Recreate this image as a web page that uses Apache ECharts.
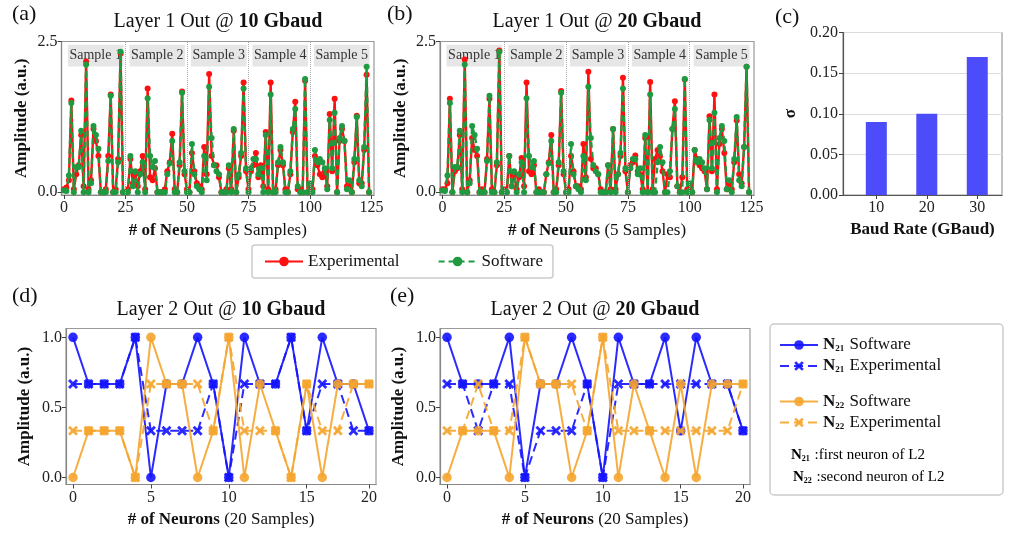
<!DOCTYPE html>
<html><head><meta charset="utf-8">
<script src="https://cdn.jsdelivr.net/npm/echarts@6/dist/echarts.min.js"></script>
<style>html,body{margin:0;padding:0;background:#fff}#c{width:1009px;height:534px}</style>
</head><body><div id="c"></div>
<script>
// ---------------- DATA ----------------
const layer1Ticks = [0, 25, 50, 75, 100, 125];
const sampleNames = ['Sample 1', 'Sample 2', 'Sample 3', 'Sample 4', 'Sample 5'];
const sampleDividers = [25, 50, 75, 100];
const layer1YTicks = [0, 2.5];

const software = [
  0.03,0.02,0.28,1.48,0.0,0.42,0.42,1.02,0.0,2.12,0.0,0.15,1.1,0.95,0.72,0.0,0.0,0.0,0.52,1.6,0.0,0.0,0.5,2.33,0.0,
  0.0,0.0,0.6,0.1,0.35,0.0,0.3,0.5,0.0,1.56,0.6,0.42,0.52,0.0,0.0,0.0,0.0,0.3,0.48,0.85,0.0,0.0,0.5,1.65,0.35,
  0.0,0.0,0.8,0.3,0.1,0.05,0.0,0.6,0.2,1.75,0.9,0.45,0.35,0.3,0.0,0.0,0.0,0.45,0.0,1.05,0.0,0.3,0.65,1.72,0.4,
  0.0,0.4,0.55,0.55,0.3,0.4,0.0,0.95,0.0,1.62,0.0,0.0,0.5,0.75,0.5,0.0,0.0,0.35,1.05,1.38,0.1,0.0,0.0,1.88,0.0,
  0.15,0.0,0.7,0.5,0.55,0.5,0.4,0.05,1.2,0.4,1.32,0.0,0.9,1.1,0.85,0.05,0.2,0.0,0.55,1.25,0.2,0.1,0.75,2.08,0.0
];
const exp10 = [
  0.05,0.08,0.2,1.52,0.05,0.3,0.45,0.95,0.1,2.17,0.05,0.2,1.05,0.85,0.6,0.0,0.0,0.05,0.6,1.62,0.0,0.05,0.55,2.3,0.0,
  0.0,0.05,0.55,0.15,0.3,0.1,0.35,0.6,0.05,1.72,0.25,0.2,0.4,0.0,0.0,0.0,0.05,0.35,0.5,0.97,0.05,0.0,0.45,1.67,0.3,
  0.05,0.0,0.65,0.35,0.15,0.1,0.05,0.75,0.3,1.96,0.6,0.45,0.45,0.25,0.0,0.0,0.05,0.4,0.05,1.02,0.0,0.25,0.6,1.82,0.35,
  0.05,0.35,0.45,0.65,0.25,0.45,0.1,1.0,0.05,1.82,0.0,0.05,0.45,0.7,0.45,0.05,0.0,0.3,1.0,1.5,0.05,0.05,0.0,1.85,0.0,
  0.1,0.05,0.6,0.45,0.3,0.25,0.35,0.1,1.3,0.35,1.55,0.0,0.85,1.05,0.85,0.1,0.15,0.0,0.5,1.27,0.15,0.15,0.7,1.95,0.0
];
const exp20 = [
  0.05,0.05,0.15,1.55,0.0,0.35,0.4,0.95,0.05,2.2,0.0,0.2,0.9,0.7,0.6,0.0,0.05,0.0,0.55,1.55,0.05,0.0,0.45,2.35,0.0,
  0.05,0.0,0.6,0.1,0.3,0.05,0.25,0.57,0.1,1.82,0.35,0.3,0.45,0.0,0.05,0.0,0.0,0.3,0.5,0.95,0.0,0.05,0.45,1.68,0.3,
  0.0,0.05,0.6,0.35,0.1,0.1,0.05,0.8,0.25,2.0,0.55,0.4,0.4,0.3,0.05,0.0,0.0,0.45,0.05,1.05,0.05,0.3,0.6,1.9,0.35,
  0.0,0.45,0.5,0.61,0.35,0.3,0.05,0.9,0.0,1.83,0.05,0.55,0.7,0.6,0.35,0.0,0.3,0.25,1.05,1.51,0.1,0.0,0.25,1.87,0.05,
  0.1,0.0,0.7,0.55,0.45,0.4,0.35,0.05,1.26,0.35,1.62,0.05,0.8,1.05,0.65,0.05,0.15,0.05,0.5,1.19,0.3,0.15,0.75,2.08,0.0
];

const baudRates = [10, 20, 30];
const sigma = [0.09, 0.10, 0.17];

const l2TickPos = [0, 5, 10, 15, 19];
const l2TickLabels = ['0', '5', '10', '15', '20'];
const l2YTicks = [0, 0.5, 1.0];
const n21Soft  = [1,.667,.667,.667,1,0,.667,.667,1,.667,0,1,.667,.667,1,.333,1,.667,.667,.333];
const n22Soft  = [0,.333,.333,.333,0,1,.667,.667,0,.333,1,0,.667,.333,0,.667,0,.667,.667,.667];
const n21Exp10 = [.667,.667,.667,.667,1,.333,.333,.333,.333,.667,0,.667,.667,.667,1,.333,.667,.667,.333,.333];
const n22Exp10 = [.333,.333,.333,.333,0,.667,.667,.667,.667,.333,1,.333,.333,.333,0,.667,.333,.333,.667,.667];
const n21Exp20 = [.667,.667,.333,.667,.667,0,.333,.333,.333,.667,0,.667,.667,.667,.667,.667,.667,.667,.667,.333];
const n22Exp20 = [.333,.333,.667,.333,.333,1,.667,.667,.667,.333,1,.333,.333,.333,.333,.333,.333,.333,.333,.667];

// ---------------- STYLE ----------------
const FONT = "'Liberation Serif','Times New Roman',serif";
const RED = '#ff1010', GREEN = '#1f9a40', BLUE = '#1414ff', ORANGE = '#f5a52f', BARC = '#4c4cfa';
const XPATH = 'path://M2,0 L5,3 L8,0 L10,2 L7,5 L10,8 L8,10 L5,7 L2,10 L0,8 L3,5 L0,2 Z';

const grids = [
  {left: 61.5, top: 41.5, width: 312.5, height: 153.5},
  {left: 440, top: 41.5, width: 314, height: 153.5},
  {left: 843, top: 32.5, width: 159, height: 162.5},
  {left: 66, top: 328.5, width: 310, height: 156},
  {left: 440, top: 328.5, width: 310, height: 156}
].map(g => Object.assign({show: true, borderColor: '#9a9a9a', borderWidth: 1.2, containLabel: false}, g));

const tickLabel = {fontFamily: FONT, fontSize: 16, color: '#222'};
const richName = {
  b: {fontFamily: FONT, fontWeight: 'bold', fontSize: 17, color: '#111'},
  n: {fontFamily: FONT, fontSize: 17, color: '#111'}
};
function baseAxis(gi) {
  return {
    gridIndex: gi, type: 'value',
    axisLine: {show: true, onZero: false, lineStyle: {color: '#888', width: 1.2}},
    axisTick: {show: true, length: 4, lineStyle: {color: '#444'}},
    splitLine: {show: false}
  };
}
function l1X(gi) {
  const a = baseAxis(gi);
  return Object.assign(a, {
    min: -1, max: 126,
    axisTick: Object.assign({}, a.axisTick, {customValues: layer1Ticks}),
    axisLabel: Object.assign({customValues: layer1Ticks, margin: 5}, tickLabel),
    name: '{b|# of Neurons}{n| (5 Samples)}', nameLocation: 'middle', nameGap: 27,
    nameTextStyle: {rich: richName}
  });
}
function l1Y(gi) {
  const a = baseAxis(gi);
  return Object.assign(a, {
    min: -0.045, max: 2.5,
    axisTick: Object.assign({}, a.axisTick, {customValues: layer1YTicks}),
    axisLabel: Object.assign({customValues: layer1YTicks, margin: 4, formatter: v => v.toFixed(1)}, tickLabel),
    name: 'Amplitude (a.u.)', nameLocation: 'middle', nameGap: 31,
    nameTextStyle: {fontFamily: FONT, fontWeight: 'bold', fontSize: 17, color: '#111'}
  });
}
function l2X(gi) {
  const a = baseAxis(gi);
  return Object.assign(a, {
    min: -0.45, max: 19.45,
    axisTick: Object.assign({}, a.axisTick, {customValues: l2TickPos}),
    axisLabel: Object.assign({customValues: l2TickPos, margin: 5,
      formatter: v => l2TickLabels[l2TickPos.indexOf(v)]}, tickLabel),
    name: '{b|# of Neurons}{n| (20 Samples)}', nameLocation: 'middle', nameGap: 27,
    nameTextStyle: {rich: richName}
  });
}
function l2Y(gi) {
  const a = baseAxis(gi);
  return Object.assign(a, {
    min: -0.05, max: 1.063,
    axisTick: Object.assign({}, a.axisTick, {customValues: l2YTicks}),
    axisLabel: Object.assign({customValues: l2YTicks, margin: 4, formatter: v => v.toFixed(1)}, tickLabel),
    name: 'Amplitude (a.u.)', nameLocation: 'middle', nameGap: 33,
    nameTextStyle: {fontFamily: FONT, fontWeight: 'bold', fontSize: 17, color: '#111'}
  });
}
const cX = Object.assign(baseAxis(2), {
  min: 3.4, max: 34.9,
  axisLine: {show: true, onZero: false, lineStyle: {color: '#555', width: 1.2}},
  axisTick: {show: true, length: 4, customValues: baudRates, lineStyle: {color: '#444'}},
  axisLabel: Object.assign({customValues: baudRates, margin: 5}, tickLabel),
  name: 'Baud Rate (GBaud)', nameLocation: 'middle', nameGap: 26,
  nameTextStyle: {fontFamily: FONT, fontWeight: 'bold', fontSize: 17, color: '#111'}
});
const cY = Object.assign(baseAxis(2), {
  min: 0, max: 0.2, interval: 0.05,
  axisLine: {show: true, onZero: false, lineStyle: {color: '#555', width: 1.2}},
  axisLabel: Object.assign({margin: 5, formatter: v => v.toFixed(2)}, tickLabel),
  splitLine: {show: true, lineStyle: {color: '#dcdcdc', width: 1}},
  name: 'σ', nameLocation: 'middle', nameGap: 44,
  nameTextStyle: {fontFamily: FONT, fontWeight: 'bold', fontSize: 17, color: '#111'}
});

const sampleEnds = sampleDividers.concat([125]);
function helper(gi) {
  return {
    type: 'line', name: '_s' + gi, xAxisIndex: gi, yAxisIndex: gi, data: [], silent: true, z: 1,
    markArea: {
      silent: true,
      itemStyle: {color: '#e6e6e6', borderRadius: 3},
      label: {show: true, position: 'inside', fontFamily: FONT, fontSize: 14, color: '#333', overflow: 'none', width: 80},
      data: sampleNames.map((s, k) => [
        {name: s, coord: [sampleEnds[k] - 25 + 1.6, 2.085]},
        {coord: [sampleEnds[k] - 0.8, 2.445]}
      ])
    },
    markLine: {
      silent: true, symbol: 'none', animation: false,
      lineStyle: {type: 'dotted', color: '#aaa', width: 1},
      label: {show: false},
      data: sampleDividers.map(x => ({xAxis: x}))
    }
  };
}
function l1Series(gi, name, arr, color, dashed, z) {
  return {
    type: 'line', name, xAxisIndex: gi, yAxisIndex: gi, z,
    data: arr.map((v, i) => [i, v]),
    symbol: 'circle', symbolSize: 6, showAllSymbol: true,
    lineStyle: {color, width: 2.4, type: dashed ? [6, 4] : 'solid'},
    itemStyle: {color}
  };
}
function l2Series(gi, name, arr, color, dashed, z) {
  return {
    type: 'line', name, xAxisIndex: gi, yAxisIndex: gi, z,
    data: arr.map((v, i) => [i, v]),
    symbol: dashed ? XPATH : 'circle', symbolSize: dashed ? 10 : 9.5, showAllSymbol: true,
    lineStyle: {color, width: 2, type: dashed ? [9, 5] : 'solid', opacity: 0.9},
    itemStyle: {color, opacity: 0.9}
  };
}

const series = [
  helper(0), helper(1),
  l1Series(0, 'Experimental', exp10, RED, false, 3),
  l1Series(0, 'Software', software, GREEN, true, 4),
  l1Series(1, 'Experimental', exp20, RED, false, 3),
  l1Series(1, 'Software', software, GREEN, true, 4),
  {type: 'bar', name: 'sigma', xAxisIndex: 2, yAxisIndex: 2, barWidth: 21,
   data: baudRates.map((b, i) => [b, sigma[i]]), itemStyle: {color: BARC}},
  l2Series(3, 'N21 Software', n21Soft, BLUE, false, 3),
  l2Series(3, 'N21 Experimental', n21Exp10, BLUE, true, 4),
  l2Series(3, 'N22 Software', n22Soft, ORANGE, false, 5),
  l2Series(3, 'N22 Experimental', n22Exp10, ORANGE, true, 6),
  l2Series(4, 'N21 Software', n21Soft, BLUE, false, 3),
  l2Series(4, 'N21 Experimental', n21Exp20, BLUE, true, 4),
  l2Series(4, 'N22 Software', n22Soft, ORANGE, false, 5),
  l2Series(4, 'N22 Experimental', n22Exp20, ORANGE, true, 6)
];

const nRich = {
  b: {fontFamily: FONT, fontWeight: 'bold', fontSize: 17, color: '#111', lineHeight: 20},
  s: {fontFamily: FONT, fontWeight: 'bold', fontSize: 9, color: '#111', padding: [8, 1, 0, 0]},
  t: {fontFamily: FONT, fontSize: 17, color: '#111', lineHeight: 20}
};
const nRichSmall = {
  b: {fontFamily: FONT, fontWeight: 'bold', fontSize: 15, color: '#111', lineHeight: 18},
  s: {fontFamily: FONT, fontWeight: 'bold', fontSize: 8, color: '#111', padding: [7, 1, 0, 0]},
  t: {fontFamily: FONT, fontSize: 15, color: '#111', lineHeight: 18}
};
function nFmt(name) {
  const parts = name.split(' ');
  return '{b|N}{s|' + parts[0].slice(1) + '}{t| ' + parts.slice(1).join(' ') + '}';
}
const legendR = (names, top) => ({
  data: names, orient: 'vertical', left: 779, top, padding: 0, itemGap: 4,
  itemWidth: 38, itemHeight: 12, formatter: nFmt, textStyle: {rich: nRich}, selectedMode: false
});

function titleText(x, y, plain, bold) {
  return {type: 'text', x, y, z: 10, style: {
    text: '{n|' + plain + '}{b|' + bold + '}', align: 'center', verticalAlign: 'top',
    rich: {n: {fontFamily: FONT, fontSize: 20, fill: '#111'}, b: {fontFamily: FONT, fontSize: 20, fontWeight: 'bold', fill: '#111'}}
  }};
}
function panelLabel(x, y, t) {
  return {type: 'text', x, y, z: 10, style: {text: t, fontFamily: FONT, fontSize: 22, fill: '#111'}};
}

const option = {
  animation: false,
  backgroundColor: '#fff',
  grid: grids,
  xAxis: [l1X(0), l1X(1), cX, l2X(3), l2X(4)],
  yAxis: [l1Y(0), l1Y(1), cY, l2Y(3), l2Y(4)],
  legend: [
    {data: ['Experimental', 'Software'], left: 252, top: 245, orient: 'horizontal',
     itemWidth: 38, itemHeight: 12, itemGap: 38, selectedMode: false,
     borderColor: '#cccccc', borderWidth: 1.5, borderRadius: 3, padding: [8, 10, 8, 12],
     textStyle: {fontFamily: FONT, fontSize: 17, color: '#111'}},
    legendR(['N21 Software', 'N21 Experimental'], 336.5),
    legendR(['N22 Software', 'N22 Experimental'], 393)
  ],
  graphic: [
    {type: 'rect', z: 0, shape: {x: 770, y: 324, width: 233, height: 171, r: 4},
     style: {fill: '#fff', stroke: '#cccccc', lineWidth: 1.5}},
    panelLabel(12, 3, '(a)'), panelLabel(387, 3, '(b)'), panelLabel(775, 6, '(c)'),
    panelLabel(12, 285, '(d)'), panelLabel(390, 285, '(e)'),
    titleText(218, 12, 'Layer 1 Out @ ', '10 Gbaud'),
    titleText(597, 12, 'Layer 1 Out @ ', '20 Gbaud'),
    titleText(221, 300, 'Layer 2 Out @ ', '10 Gbaud'),
    titleText(595, 300, 'Layer 2 Out @ ', '20 Gbaud'),
    {type: 'text', x: 791, y: 446, z: 10, style: {text: '{b|N}{s|21}{t| :first neuron of L2}', rich: nRichSmall}},
    {type: 'text', x: 793, y: 468, z: 10, style: {text: '{b|N}{s|22}{t| :second neuron of L2}', rich: nRichSmall}}
  ],
  series
};
const chart = echarts.init(document.getElementById('c'));
chart.setOption(option);
</script>
</body></html>
